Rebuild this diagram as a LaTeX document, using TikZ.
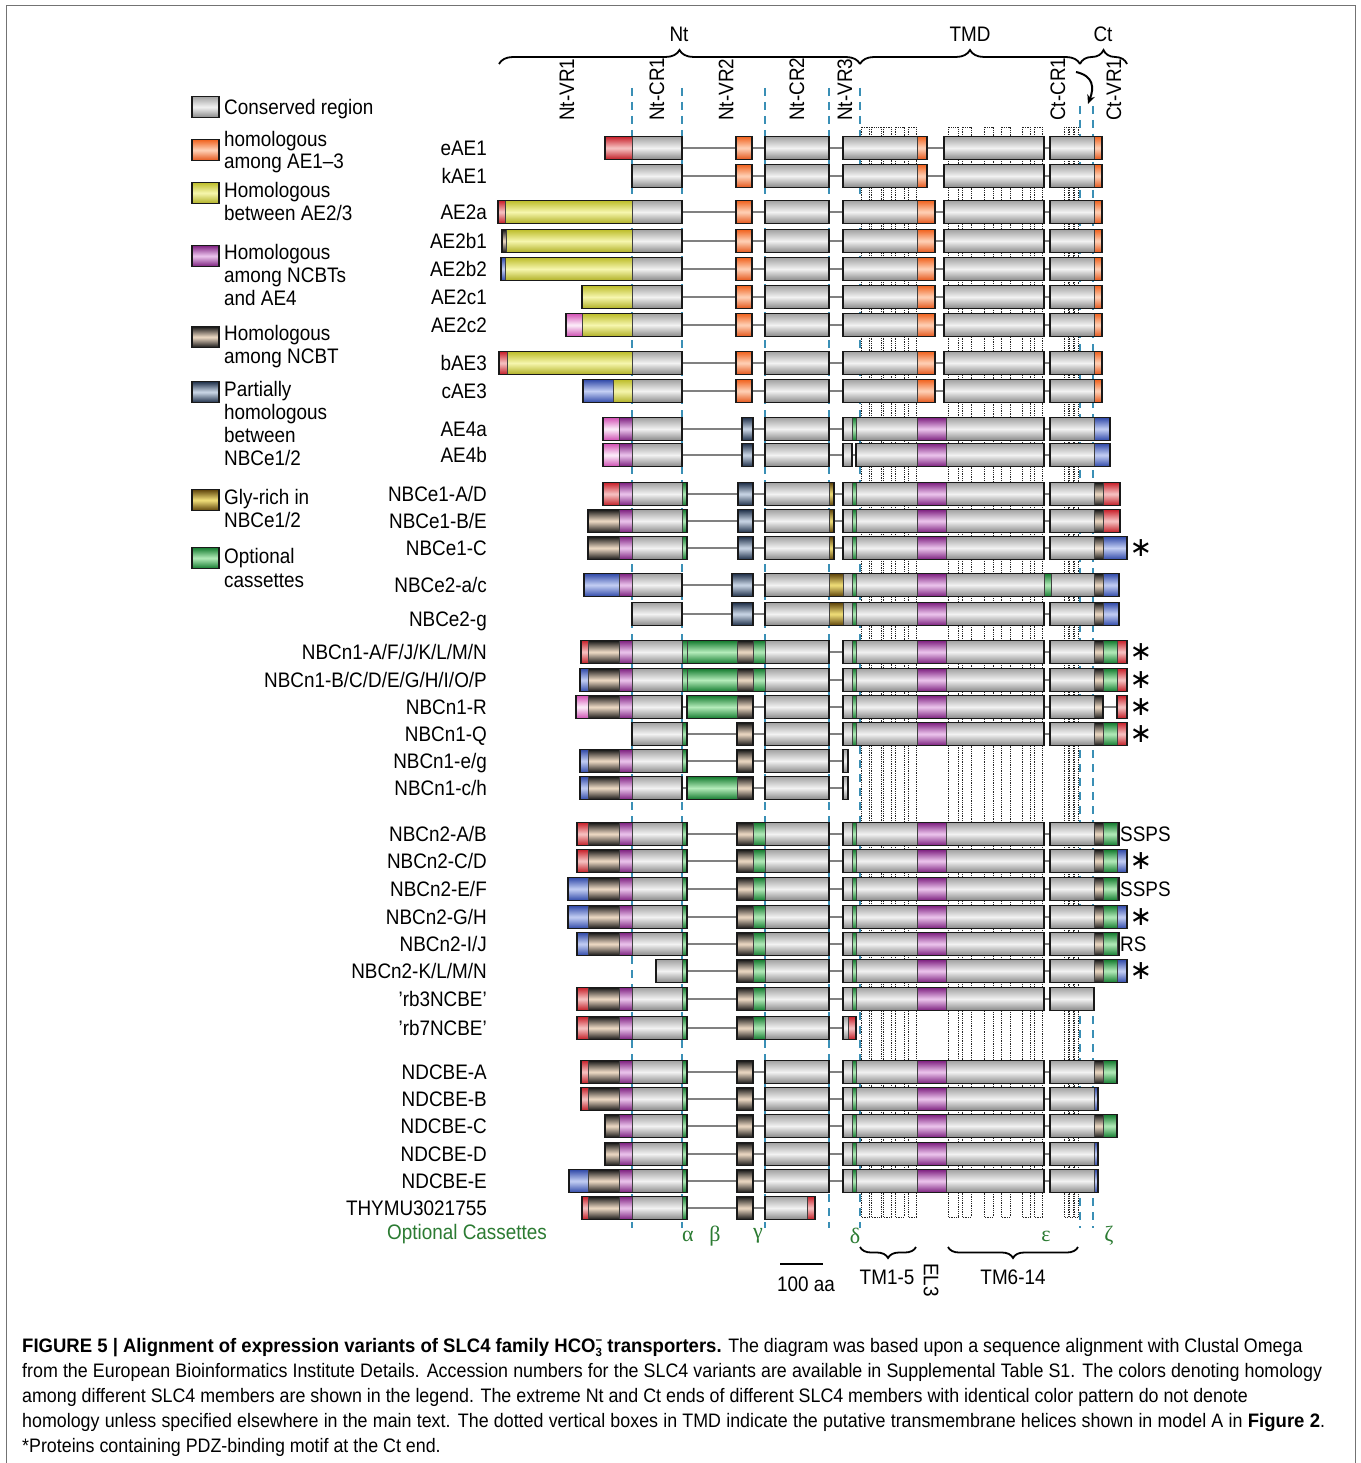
\documentclass[tikz,border=0pt]{standalone}
\usepackage{fontspec}
\setmainfont[FakeStretch=0.9]{Liberation Sans}
\newfontfamily\capf[FakeStretch=0.915,BoldFeatures={FakeStretch=0.95}]{Liberation Sans}
\newfontfamily\grkf{Liberation Serif}
\newfontfamily\dvf{DejaVu Sans}
\usetikzlibrary{decorations.pathreplacing,arrows.meta}
\definecolor{G1}{HTML}{A2A2A2}\definecolor{G2}{HTML}{F2F2F2}\definecolor{G3}{HTML}{888888}
\definecolor{O1}{HTML}{F0621E}\definecolor{O2}{HTML}{FFD2B8}\definecolor{O3}{HTML}{E4561A}
\definecolor{R1}{HTML}{C8202A}\definecolor{R2}{HTML}{F7C4C4}\definecolor{R3}{HTML}{C01C24}
\definecolor{Y1}{HTML}{BDBD2A}\definecolor{Y2}{HTML}{F6F6AE}\definecolor{Y3}{HTML}{B0B024}
\definecolor{P1}{HTML}{7E2080}\definecolor{P2}{HTML}{EDC6EE}\definecolor{P3}{HTML}{7A1E7C}
\definecolor{K1}{HTML}{D250B4}\definecolor{K2}{HTML}{FDEFFA}\definecolor{K3}{HTML}{CC4CB0}
\definecolor{B1}{HTML}{151515}\definecolor{B2}{HTML}{F0DCC6}
\definecolor{S1}{HTML}{1E2F48}\definecolor{S2}{HTML}{CCD8E8}
\definecolor{L1}{HTML}{3049A8}\definecolor{L2}{HTML}{C4CFF4}
\definecolor{D1}{HTML}{5E430A}\definecolor{D2}{HTML}{F2E07A}
\definecolor{N1}{HTML}{137A2E}\definecolor{N2}{HTML}{B4ECBA}
\definecolor{DB}{HTML}{3A8FB5}
\definecolor{GT}{HTML}{2B7B32}
\newcommand\lfnt{\fontsize{21}{23}\selectfont}
\newcommand\cfnt{\capf\fontsize{19.5}{25}\selectfont}
\newcommand\bx[4]{%
  \foreach \xa/\xb/\st in {#4}{%
    \edef\tmp{\noexpand\path[\st,sg] (\xa,#1-11.5) rectangle (\xb,#1+11.5);}\tmp}%
  \draw[bxo] (#2,#1-11.5) rectangle (#3,#1+11.5);}
\newcommand\lk[3]{\draw[lnk] (#2,#1) -- (#3,#1);}
\newcommand\tmd[1]{\bx{#1}{843}{1044}{843/852/gr,852/856/gn,856/917/gr,917/946/pu,946/1044/gr}}
\newcommand\crt[1]{\bx{#1}{765}{829}{765/829/gr}}
\newcommand\aerest[2]{\bx{#1}{736}{752}{736/752/or}\crt{#1}\bx{#1}{843}{#2}{843/917/gr,917/#2/or}\bx{#1}{944}{1044}{944/1044/gr}\bx{#1}{1050}{1102}{1050/1094/gr,1094/1102/or}}
\newcommand\rl[3]{\node[lf,anchor=base east] (#1) at (487,#2+7.5) {#3};}
\newcommand\astk[2]{\node[font=\dvf\fontsize{27}{27}\selectfont,inner sep=0pt] (#1) at (1141,#2) {∗};}
\begin{document}
\begin{tikzpicture}[x=1pt,y=-1pt,
  sg/.style={draw=black!75,line width=0.5pt},
  bxo/.style={draw=black!90,line width=1.4pt},
  lnk/.style={draw=black!50,line width=2.6pt},
  hx/.style={draw=black!85,densely dotted,line width=0.8pt},
  dsh/.style={draw=DB,line width=1.6pt,dash pattern=on 8pt off 6pt},
  lf/.style={font=\lfnt,inner sep=0pt},
  gr/.style={top color=G1,bottom color=G3,middle color=G2},
  or/.style={top color=O1,bottom color=O3,middle color=O2},
  rd/.style={top color=R1,bottom color=R3,middle color=R2},
  ol/.style={top color=Y1,bottom color=Y3,middle color=Y2},
  pu/.style={top color=P1,bottom color=P3,middle color=P2},
  pk/.style={top color=K1,bottom color=K3,middle color=K2},
  br/.style={top color=B1,bottom color=B1,middle color=B2},
  bg/.style={top color=S1,bottom color=S1,middle color=S2},
  bl/.style={top color=L1,bottom color=L1,middle color=L2},
  gd/.style={top color=D1,bottom color=D1,middle color=D2},
  gn/.style={top color=N1,bottom color=N1,middle color=N2},
  brc/.style={line width=1.8pt,decorate},
  grk/.style={font=\grkf\fontsize{22}{22}\selectfont,text=GT,inner sep=0pt}]
\useasboundingbox (0,0) rectangle (1360,1463);
\fill[white] (0,0) rectangle (1360,1463);
% frame
\draw[black!55,line width=1pt] (6,1470) -- (6,6) -- (1355,6) -- (1355,1470);
% header braces
\draw[brc,decoration={brace,amplitude=14pt}] (499,64) -- (860,64);
\draw[brc,decoration={brace,amplitude=14pt}] (860,64) -- (1080,64);
\draw[brc,decoration={brace,amplitude=14pt}] (1080,64) -- (1127,64);
\node[lf] (hNt) at (679,34) {Nt};
\node[lf] (hTMD) at (970,34) {TMD};
\node[lf] (hCt) at (1103,34) {Ct};
\foreach \x/\t in {567/Nt-VR1,657/Nt-CR1,726/Nt-VR2,797/Nt-CR2,845/Nt-VR3,1058/Ct-CR1,1114/Ct-VR1}
  \node[lf,rotate=90,anchor=west] (v\t) at (\x,121) {\t};
\draw[line width=2pt,-{Stealth[length=9pt,width=8pt]}] (1076,72) .. controls (1094,76) and (1094,88) .. (1088,104);
% legend
\foreach \y/\s in {107/gr,150/or,193/ol,256/pu,337/br,392/bg,500/gd,558/gn}
  \path[\s,draw=black!90,line width=1.4pt] (192,\y-10.5) rectangle (219,\y+10.5);
\foreach \y/\t [count=\i] in {107/{Conserved region},139/{homologous},161/{among AE1–3},190/{Homologous},213/{between AE2/3},
  252/{Homologous},275/{among NCBTs},298/{and AE4},333/{Homologous},356/{among NCBT},389/{Partially},412/{homologous},
  435/{between},458/{NBCe1/2},497/{Gly-rich in},520/{NBCe1/2},556/{Optional},580/{cassettes}}
  \node[lf,anchor=base west] (lg\i) at (224,\y+7.5) {\t};
% helices
\foreach \a/\b in {861/869,871/881,883/891,895/904,908/916,948/958,962/971,984/993,1001/1010,1022/1030,1034/1042,1064/1068,1069/1073,1074/1078}
  \draw[hx] (\a,127) rectangle (\b,1217);
% dashed lines
\foreach \x in {632,682,765,829,860} \draw[dsh] (\x,88) -- (\x,1228);
\foreach \x in {1080,1093} \draw[dsh] (\x,106) -- (\x,1228);
% ---- rows ----
\rl{n1}{148}{eAE1}\lk{148}{605}{1102}\bx{148}{605}{682}{605/632/rd,632/682/gr}\aerest{148}{927}
\rl{n2}{176}{kAE1}\lk{176}{632}{1102}\bx{176}{632}{682}{632/682/gr}\aerest{176}{927}
\rl{n3}{212}{AE2a}\lk{212}{498}{1102}\bx{212}{498}{682}{498/505/rd,505/632/ol,632/682/gr}\aerest{212}{935}
\rl{n4}{241}{AE2b1}\lk{241}{502}{1102}\bx{241}{502}{682}{502/506/br,506/632/ol,632/682/gr}\aerest{241}{935}
\rl{n5}{269}{AE2b2}\lk{269}{501}{1102}\bx{269}{501}{682}{501/505/bl,505/632/ol,632/682/gr}\aerest{269}{935}
\rl{n6}{297}{AE2c1}\lk{297}{582}{1102}\bx{297}{582}{682}{582/632/ol,632/682/gr}\aerest{297}{935}
\rl{n7}{325}{AE2c2}\lk{325}{566}{1102}\bx{325}{566}{682}{566/582/pk,582/632/ol,632/682/gr}\aerest{325}{935}
\rl{n8}{363}{bAE3}\lk{363}{499}{1102}\bx{363}{499}{682}{499/507/rd,507/632/ol,632/682/gr}\aerest{363}{935}
\rl{n9}{391}{cAE3}\lk{391}{583}{1102}\bx{391}{583}{682}{583/613/bl,613/632/ol,632/682/gr}\aerest{391}{935}
% AE4
\rl{n10}{429}{AE4a}\lk{429}{603}{1110}\bx{429}{603}{682}{603/619/pk,619/632/pu,632/682/gr}\bx{429}{742}{753}{742/753/bg}\crt{429}\tmd{429}\bx{429}{1050}{1110}{1050/1094/gr,1094/1110/bl}
\rl{n11}{455}{AE4b}\lk{455}{603}{1110}\bx{455}{603}{682}{603/619/pk,619/632/pu,632/682/gr}\bx{455}{742}{753}{742/753/bg}\crt{455}\bx{455}{843}{852}{843/852/gr}\bx{455}{856}{1044}{856/917/gr,917/946/pu,946/1044/gr}\bx{455}{1050}{1110}{1050/1094/gr,1094/1110/bl}
% NBCe1
\rl{n12}{494}{NBCe1-A/D}\lk{494}{603}{1120}\bx{494}{603}{687}{603/619/rd,619/632/pu,632/682/gr,682/687/gn}\bx{494}{738}{753}{738/753/bg}\bx{494}{765}{834}{765/829/gr,829/834/gd}\tmd{494}\bx{494}{1050}{1120}{1050/1094/gr,1094/1103/br,1103/1120/rd}
\rl{n13}{521}{NBCe1-B/E}\lk{521}{588}{1120}\bx{521}{588}{687}{588/619/br,619/632/pu,632/682/gr,682/687/gn}\bx{521}{738}{753}{738/753/bg}\bx{521}{765}{834}{765/829/gr,829/834/gd}\tmd{521}\bx{521}{1050}{1120}{1050/1094/gr,1094/1103/br,1103/1120/rd}
\rl{n14}{548}{NBCe1-C}\lk{548}{588}{1127}\bx{548}{588}{687}{588/619/br,619/632/pu,632/682/gr,682/687/gn}\bx{548}{738}{753}{738/753/bg}\bx{548}{765}{834}{765/829/gr,829/834/gd}\tmd{548}\bx{548}{1050}{1127}{1050/1094/gr,1094/1103/br,1103/1127/bl}\astk{a14}{548}
% NBCe2
\rl{n15}{585}{NBCe2-a/c}\lk{585}{584}{1119}\bx{585}{584}{682}{584/619/bl,619/632/pu,632/682/gr}\bx{585}{732}{753}{732/753/bg}\bx{585}{765}{1119}{765/829/gr,829/843/gd,843/852/gr,852/856/gn,856/917/gr,917/946/pu,946/1044/gr,1044/1051/gn,1051/1094/gr,1094/1103/br,1103/1119/bl}
\rl{n16}{619}{NBCe2-g}\lk{614}{632}{1119}\bx{614}{632}{682}{632/682/gr}\bx{614}{732}{753}{732/753/bg}\bx{614}{765}{1044}{765/829/gr,829/843/gd,843/852/gr,852/856/gn,856/917/gr,917/946/pu,946/1044/gr}\bx{614}{1050}{1119}{1050/1094/gr,1094/1103/br,1103/1119/bl}
% NBCn1
\rl{n17}{652}{NBCn1-A/F/J/K/L/M/N}\lk{652}{581}{1127}\bx{652}{581}{829}{581/588/rd,588/619/br,619/632/pu,632/682/gr,682/687/gn,687/737/gn,737/753/br,753/765/gn,765/829/gr}\tmd{652}\bx{652}{1050}{1127}{1050/1094/gr,1094/1103/br,1103/1117/gn,1117/1127/rd}\astk{a17}{652}
\rl{n18}{680}{NBCn1-B/C/D/E/G/H/I/O/P}\lk{680}{580}{1127}\bx{680}{580}{829}{580/588/bl,588/619/br,619/632/pu,632/682/gr,682/687/gn,687/737/gn,737/753/br,753/765/gn,765/829/gr}\tmd{680}\bx{680}{1050}{1127}{1050/1094/gr,1094/1103/br,1103/1117/gn,1117/1127/rd}\astk{a18}{680}
\rl{n19}{707}{NBCn1-R}\lk{707}{576}{1127}\bx{707}{576}{682}{576/588/pk,588/619/br,619/632/pu,632/682/gr}\bx{707}{687}{753}{687/737/gn,737/753/br}\crt{707}\tmd{707}\bx{707}{1050}{1103}{1050/1094/gr,1094/1103/br}\bx{707}{1117}{1127}{1117/1127/rd}\astk{a19}{707}
\rl{n20}{734}{NBCn1-Q}\lk{734}{632}{1127}\bx{734}{632}{687}{632/682/gr,682/687/gn}\bx{734}{737}{753}{737/753/br}\crt{734}\tmd{734}\bx{734}{1050}{1127}{1050/1094/gr,1094/1103/br,1103/1117/gn,1117/1127/rd}\astk{a20}{734}
\rl{n21}{761}{NBCn1-e/g}\lk{761}{580}{843}\bx{761}{580}{687}{580/588/bl,588/619/br,619/632/pu,632/682/gr,682/687/gn}\bx{761}{737}{753}{737/753/br}\crt{761}\bx{761}{843}{848}{843/848/gr}
\rl{n22}{788}{NBCn1-c/h}\lk{788}{580}{843}\bx{788}{580}{682}{580/588/bl,588/619/br,619/632/pu,632/682/gr}\bx{788}{687}{753}{687/737/gn,737/753/br}\crt{788}\bx{788}{843}{848}{843/848/gr}
% NBCn2
\rl{n23}{834}{NBCn2-A/B}\lk{834}{577}{1119}\bx{834}{577}{687}{577/588/rd,588/619/br,619/632/pu,632/682/gr,682/687/gn}\bx{834}{737}{829}{737/753/br,753/765/gn,765/829/gr}\tmd{834}\bx{834}{1050}{1119}{1050/1094/gr,1094/1103/br,1103/1117/gn,1117/1119/rd}\node[lf,anchor=base west] (s23) at (1120,834+7.5) {SSPS};
\rl{n24}{861}{NBCn2-C/D}\lk{861}{577}{1127}\bx{861}{577}{687}{577/588/rd,588/619/br,619/632/pu,632/682/gr,682/687/gn}\bx{861}{737}{829}{737/753/br,753/765/gn,765/829/gr}\tmd{861}\bx{861}{1050}{1127}{1050/1094/gr,1094/1103/br,1103/1117/gn,1117/1127/bl}\astk{a24}{861}
\rl{n25}{889}{NBCn2-E/F}\lk{889}{568}{1119}\bx{889}{568}{687}{568/588/bl,588/619/br,619/632/pu,632/682/gr,682/687/gn}\bx{889}{737}{829}{737/753/br,753/765/gn,765/829/gr}\tmd{889}\bx{889}{1050}{1119}{1050/1094/gr,1094/1103/br,1103/1117/gn,1117/1119/rd}\node[lf,anchor=base west] (s25) at (1120,889+7.5) {SSPS};
\rl{n26}{917}{NBCn2-G/H}\lk{917}{568}{1127}\bx{917}{568}{687}{568/588/bl,588/619/br,619/632/pu,632/682/gr,682/687/gn}\bx{917}{737}{829}{737/753/br,753/765/gn,765/829/gr}\tmd{917}\bx{917}{1050}{1127}{1050/1094/gr,1094/1103/br,1103/1117/gn,1117/1127/bl}\astk{a26}{917}
\rl{n27}{944}{NBCn2-I/J}\lk{944}{577}{1119}\bx{944}{577}{687}{577/588/bl,588/619/br,619/632/pu,632/682/gr,682/687/gn}\bx{944}{737}{829}{737/753/br,753/765/gn,765/829/gr}\tmd{944}\bx{944}{1050}{1119}{1050/1094/gr,1094/1103/br,1103/1117/gn,1117/1119/rd}\node[lf,anchor=base west] (s27) at (1120,944+7.5) {RS};
\rl{n28}{971}{NBCn2-K/L/M/N}\lk{971}{656}{1127}\bx{971}{656}{687}{656/682/gr,682/687/gn}\bx{971}{737}{829}{737/753/br,753/765/gn,765/829/gr}\tmd{971}\bx{971}{1050}{1127}{1050/1094/gr,1094/1103/br,1103/1117/gn,1117/1127/bl}\astk{a28}{971}
\rl{n29}{999}{'rb3NCBE'}\lk{999}{577}{1094}\bx{999}{577}{687}{577/588/rd,588/619/br,619/632/pu,632/682/gr,682/687/gn}\bx{999}{737}{829}{737/753/br,753/765/gn,765/829/gr}\tmd{999}\bx{999}{1050}{1094}{1050/1094/gr}
\rl{n30}{1028}{'rb7NCBE'}\lk{1028}{577}{843}\bx{1028}{577}{687}{577/588/rd,588/619/br,619/632/pu,632/682/gr,682/687/gn}\bx{1028}{737}{829}{737/753/br,753/765/gn,765/829/gr}\bx{1028}{843}{856}{843/848/gr,848/856/rd}
% NDCBE
\rl{n31}{1072}{NDCBE-A}\lk{1072}{581}{1117}\bx{1072}{581}{687}{581/588/rd,588/619/br,619/632/pu,632/682/gr,682/687/gn}\bx{1072}{737}{753}{737/753/br}\crt{1072}\tmd{1072}\bx{1072}{1050}{1117}{1050/1094/gr,1094/1103/br,1103/1117/gn}
\rl{n32}{1099}{NDCBE-B}\lk{1099}{581}{1098}\bx{1099}{581}{687}{581/588/rd,588/619/br,619/632/pu,632/682/gr,682/687/gn}\bx{1099}{737}{753}{737/753/br}\crt{1099}\tmd{1099}\bx{1099}{1050}{1098}{1050/1094/gr,1094/1098/bl}
\rl{n33}{1126}{NDCBE-C}\lk{1126}{605}{1117}\bx{1126}{605}{687}{605/619/br,619/632/pu,632/682/gr,682/687/gn}\bx{1126}{737}{753}{737/753/br}\crt{1126}\tmd{1126}\bx{1126}{1050}{1117}{1050/1094/gr,1094/1103/br,1103/1117/gn}
\rl{n34}{1154}{NDCBE-D}\lk{1154}{605}{1098}\bx{1154}{605}{687}{605/619/br,619/632/pu,632/682/gr,682/687/gn}\bx{1154}{737}{753}{737/753/br}\crt{1154}\tmd{1154}\bx{1154}{1050}{1098}{1050/1094/gr,1094/1098/bl}
\rl{n35}{1181}{NDCBE-E}\lk{1181}{569}{1098}\bx{1181}{569}{687}{569/588/bl,588/619/br,619/632/pu,632/682/gr,682/687/gn}\bx{1181}{737}{753}{737/753/br}\crt{1181}\tmd{1181}\bx{1181}{1050}{1098}{1050/1094/gr,1094/1098/bl}
\rl{n36}{1208}{THYMU3021755}\lk{1208}{582}{765}\bx{1208}{582}{687}{582/588/rd,588/619/br,619/632/pu,632/682/gr,682/687/gn}\bx{1208}{737}{753}{737/753/br}\bx{1208}{765}{815}{765/807/gr,807/815/rd}
% bottom annotations
\node[lf,text=GT] (oc) at (467,1234) {Optional Cassettes};
\foreach \x/\g/\n in {688/α/ga,715/β/gb,758/γ/gc,855/δ/gd,1046/ε/ge,1109/ζ/gz}
  \node[grk] (\n) at (\x,1236) {\g};
\draw[brc,decoration={brace,amplitude=11pt}] (916,1247) -- (860,1247);
\draw[brc,decoration={brace,amplitude=11pt}] (1078,1247) -- (948,1247);
\node[lf] (tm15) at (887,1277) {TM1-5};
\node[lf] (tm614) at (1013,1277) {TM6-14};
\node[lf,rotate=-90] (el3) at (931,1280) {EL3};
\coordinate (sb1) at (780,1264); \coordinate (sb2) at (823,1264);
\draw[line width=2pt] (sb1) -- (sb2);
\node[lf] (sbl) at (806,1284) {100 aa};
% caption
\begin{scope}[every node/.style={anchor=base west,inner sep=0pt,font=\cfnt}]
\node (c1) at (22,1352) {\textbf{FIGURE 5 | Alignment of expression variants of SLC4 family HCO\rlap{\raisebox{-0.45ex}{\fontsize{12}{12}\selectfont 3}}\raisebox{0.75ex}{\fontsize{12}{12}\selectfont −} transporters.} The diagram was based upon a sequence alignment with Clustal Omega};
\node (c2) at (22,1377) {\makebox[1300pt][s]{from the European Bioinformatics Institute Details. Accession numbers for the SLC4 variants are available in Supplemental Table S1. The colors denoting homology}};
\node (c3) at (22,1402) {among different SLC4 members are shown in the legend. The extreme Nt and Ct ends of different SLC4 members with identical color pattern do not denote};
\node (c4) at (22,1427) {\makebox[1303pt][s]{homology unless specified elsewhere in the main text. The dotted vertical boxes in TMD indicate the putative transmembrane helices shown in model A in \textbf{Figure 2}.}};
\node (c5) at (22,1452) {*Proteins containing PDZ-binding motif at the Ct end.};
\end{scope}
\end{tikzpicture}
\end{document}
